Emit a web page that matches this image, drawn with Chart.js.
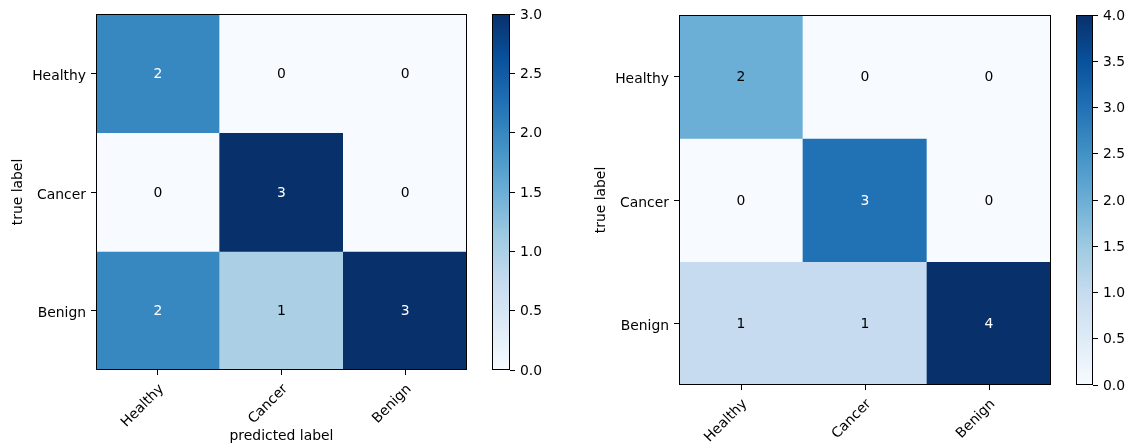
<!DOCTYPE html>
<html>
<head>
<meta charset="utf-8">
<script src="https://cdn.jsdelivr.net/npm/chart.js@4.4.0/dist/chart.umd.min.js"></script>
<style>
  html, body { margin: 0; padding: 0; background: #fff; width: 1136px; height: 448px; overflow: hidden; }
  canvas { position: absolute; top: 0; }
</style>
</head>
<body>
<canvas id="cmA" width="480" height="448" style="left:0px"></canvas>
<canvas id="cbA" width="90" height="448" style="left:470px"></canvas>
<canvas id="cmB" width="480" height="448" style="left:580px"></canvas>
<canvas id="cbB" width="82" height="448" style="left:1054px"></canvas>
<script>
// Class names (rows = true label, columns = predicted label)
const classes = ['Healthy', 'Cancer', 'Benign'];

// Confusion matrices
const matrixA = [
  [2, 0, 0],
  [0, 3, 0],
  [2, 1, 3]
];
const matrixB = [
  [2, 0, 0],
  [0, 3, 0],
  [1, 1, 4]
];

// Colorbar tick values
const colorbarTicksA = [0, 0.5, 1, 1.5, 2, 2.5, 3];
const colorbarTicksB = [0, 0.5, 1, 1.5, 2, 2.5, 3, 3.5, 4];

// Blues colormap anchor colours
const BLUES = ['#f7fbff', '#deebf7', '#c6dbef', '#9ecae1', '#6baed6',
               '#4292c6', '#2171b5', '#08519c', '#08306b'];

function hexToRgb(h) {
  return [parseInt(h.slice(1, 3), 16), parseInt(h.slice(3, 5), 16), parseInt(h.slice(5, 7), 16)];
}
function blues(t) {
  t = Math.min(1, Math.max(0, t));
  const pos = t * (BLUES.length - 1);
  const i = Math.min(Math.floor(pos), BLUES.length - 2);
  const f = pos - i;
  const a = hexToRgb(BLUES[i]), b = hexToRgb(BLUES[i + 1]);
  const c = a.map((v, k) => Math.round(v + (b[k] - v) * f));
  return `rgb(${c[0]},${c[1]},${c[2]})`;
}

const FONT = { family: '"DejaVu Sans", sans-serif', size: 13.9 };

// Writes each cell's count at its centre
const cellText = {
  id: 'cellText',
  afterDatasetsDraw(chart, args, opts) {
    const ctx = chart.ctx;
    ctx.save();
    ctx.font = `${FONT.size}px ${FONT.family}`;
    ctx.textAlign = 'center';
    ctx.textBaseline = 'middle';
    chart.data.datasets.forEach((ds, i) => {
      chart.getDatasetMeta(i).data.forEach((bar, j) => {
        const v = ds.values[j];
        ctx.fillStyle = v > opts.vmax / 2 ? '#ffffff' : '#000000';
        ctx.fillText(String(v), bar.x, (bar.y + bar.base) / 2 + 1);
      });
    });
    ctx.restore();
  }
};

// Black frame around the plotting area
const frame = {
  id: 'frame',
  afterDraw(chart) {
    const { ctx, chartArea: a } = chart;
    ctx.save();
    ctx.strokeStyle = '#000';
    ctx.lineWidth = 1;
    ctx.strokeRect(Math.round(a.left) + 0.5, Math.round(a.top) + 0.5,
                   Math.round(a.right - a.left) - 1, Math.round(a.bottom - a.top) - 1);
    ctx.restore();
  }
};

function matrixChart(id, matrix, cfg) {
  const vmax = Math.max(...matrix.flat());
  const datasets = matrix.map((row, r) => ({
    label: classes[r],
    data: row.map(() => [r - 0.5, r + 0.5]),
    values: row,
    backgroundColor: row.map(v => blues(v / vmax)),
    borderWidth: 0,
    grouped: false,
    barPercentage: 1,
    categoryPercentage: 1
  }));
  return new Chart(document.getElementById(id), {
    type: 'bar',
    data: { labels: classes, datasets },
    options: {
      responsive: false,
      animation: false,
      layout: { padding: { left: 0, right: cfg.padRight, top: cfg.padTop, bottom: 0 } },
      plugins: {
        legend: { display: false },
        tooltip: { enabled: false },
        cellText: { vmax }
      },
      scales: {
        x: {
          type: 'category',
          grid: { offset: false, drawOnChartArea: false, drawTicks: true, tickLength: 5, tickColor: '#000' },
          border: { display: false },
          ticks: { color: '#000', font: FONT, minRotation: 45, maxRotation: 45, padding: 6, labelOffset: 4, autoSkip: false },
          title: {
            display: !!cfg.xTitle, text: cfg.xTitle || '', color: '#000', font: FONT,
            padding: { top: 0, bottom: 3 }
          },
          afterFit: s => { s.height = cfg.xAxisHeight; }
        },
        y: {
          type: 'linear',
          reverse: true,
          min: -0.5,
          max: classes.length - 0.5,
          afterBuildTicks: s => { s.ticks = classes.map((c, i) => ({ value: i })); },
          grid: { drawOnChartArea: false, drawTicks: true, tickLength: 5, tickColor: '#000' },
          border: { display: false },
          ticks: { color: '#000', font: FONT, padding: 5, labelOffset: 3, callback: v => classes[v] },
          title: {
            display: true, text: 'true label', color: '#000', font: FONT,
            padding: { top: cfg.yTitlePad, bottom: 0 }
          },
          afterFit: s => { s.width = cfg.yAxisWidth; }
        }
      }
    },
    plugins: [cellText, frame]
  });
}

function colorbarChart(id, ticks, cfg) {
  const vmax = ticks[ticks.length - 1];
  return new Chart(document.getElementById(id), {
    type: 'bar',
    data: {
      labels: [''],
      datasets: [{
        data: [[0, vmax]],
        borderWidth: 0,
        barPercentage: 1,
        categoryPercentage: 1,
        backgroundColor: c => {
          const chart = c.chart;
          if (!chart.chartArea) return BLUES[0];
          const y = chart.scales.y;
          const g = chart.ctx.createLinearGradient(0, y.getPixelForValue(0), 0, y.getPixelForValue(vmax));
          BLUES.forEach((col, i) => g.addColorStop(i / (BLUES.length - 1), col));
          return g;
        }
      }]
    },
    options: {
      responsive: false,
      animation: false,
      layout: { padding: { left: cfg.padLeft, right: 0, top: cfg.padTop, bottom: cfg.padBottom } },
      plugins: { legend: { display: false }, tooltip: { enabled: false } },
      scales: {
        x: { display: false },
        y: {
          position: 'right',
          min: 0,
          max: vmax,
          afterBuildTicks: s => { s.ticks = ticks.map(v => ({ value: v })); },
          grid: { drawOnChartArea: false, drawTicks: true, tickLength: 5, tickColor: '#000' },
          border: { display: false },
          ticks: { color: '#000', font: FONT, padding: 5, labelOffset: 1, callback: v => Number(v).toFixed(1) },
          afterFit: s => { s.width = cfg.yAxisWidth; }
        }
      }
    },
    plugins: [frame]
  });
}

matrixChart('cmA', matrixA, { padTop: 14, padRight: 13, xAxisHeight: 78, yAxisWidth: 96, yTitlePad: 10, xTitle: 'predicted label' });
colorbarChart('cbA', colorbarTicksA, { padLeft: 22, padTop: 14, padBottom: 78, yAxisWidth: 50 });
matrixChart('cmB', matrixB, { padTop: 15, padRight: 9, xAxisHeight: 63, yAxisWidth: 99, yTitlePad: 13.5 });
colorbarChart('cbB', colorbarTicksB, { padLeft: 22, padTop: 15, padBottom: 63, yAxisWidth: 43 });
</script>
</body>
</html>
